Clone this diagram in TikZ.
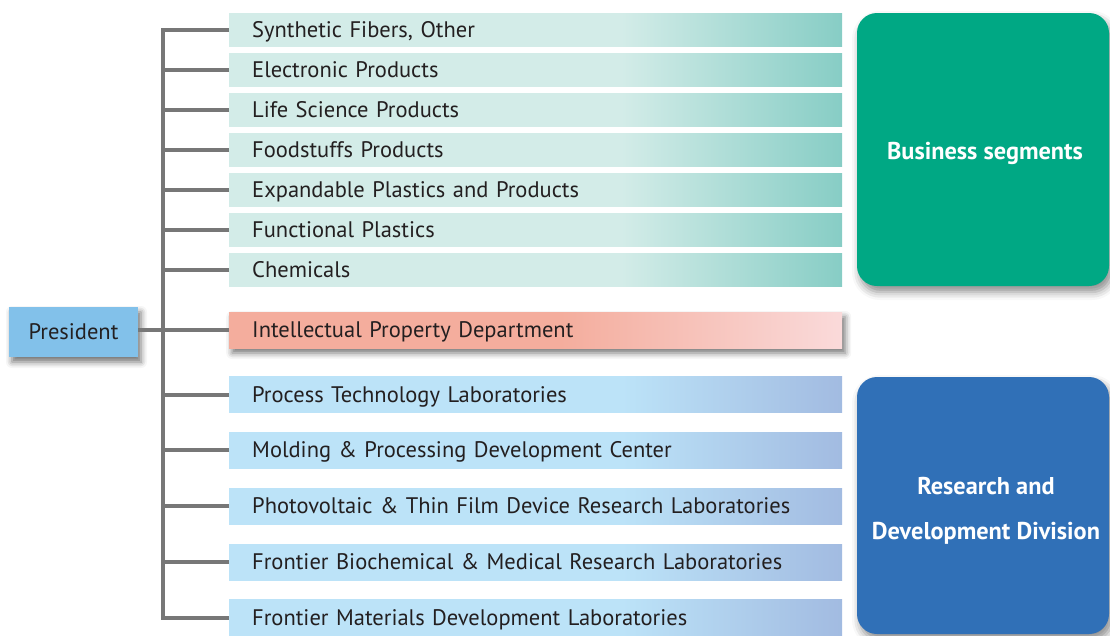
\documentclass[tikz,border=0pt]{standalone}
\usepackage{fontspec}
\setmainfont{PT Sans}
\usetikzlibrary{shadows.blur}
\definecolor{gl}{HTML}{D3ECE8}
\definecolor{gr}{HTML}{87CDC5}
\definecolor{rl}{HTML}{F4AD9D}
\definecolor{rr}{HTML}{FADADA}
\definecolor{bl}{HTML}{BCE3F8}
\definecolor{br}{HTML}{A2BBE1}
\definecolor{bizgreen}{HTML}{00A884}
\definecolor{rdblue}{HTML}{3070B7}
\definecolor{presblue}{HTML}{82C1EA}
\definecolor{linegray}{HTML}{777777}
\definecolor{txt}{HTML}{231F20}
\pgfdeclarehorizontalshading{greenrow}{100bp}{color(0bp)=(gl); color(25bp)=(gl); color(57bp)=(gl); color(75bp)=(gr); color(100bp)=(gr)}
\pgfdeclarehorizontalshading{redrow}{100bp}{color(0bp)=(rl); color(25bp)=(rl); color(52bp)=(rl); color(75bp)=(rr); color(100bp)=(rr)}
\pgfdeclarehorizontalshading{bluerow}{100bp}{color(0bp)=(bl); color(25bp)=(bl); color(57bp)=(bl); color(75bp)=(br); color(100bp)=(br)}
\tikzset{
  rowbox/.style={anchor=west, minimum width=613pt, text width=567pt, inner xsep=23pt,
    align=left, text height=15.5pt, text depth=0pt, font=\fontsize{22.5}{26}\selectfont, text=txt},
  greenbox/.style={rowbox, shading=greenrow, minimum height=33pt},
  redbox/.style={rowbox, shading=redrow, minimum height=36pt,
    blur shadow={shadow xshift=3pt, shadow yshift=-5pt, shadow blur radius=6pt, shadow opacity=55}},
  bluebox/.style={rowbox, shading=bluerow, minimum height=36pt},
  bigbox/.style={rounded corners=20pt,
    blur shadow={shadow xshift=3pt, shadow yshift=-6pt, shadow blur radius=8pt, shadow opacity=45}},
  bigtext/.style={text=white, align=center, font=\bfseries\fontsize{24.3}{45}\selectfont},
  conn/.style={draw=linegray, line width=4pt, line join=miter},
}
\begin{document}
\begin{tikzpicture}[x=1pt,y=-1pt]
\useasboundingbox (0,0) rectangle (1110,635);
% green rows
\node[greenbox] (g1) at (229,29.5) {Synthetic Fibers, Other};
\node[greenbox] (g2) at (229,69.5) {Electronic Products};
\node[greenbox] (g3) at (229,109.5) {Life Science Products};
\node[greenbox] (g4) at (229,149.5) {Foodstuffs Products};
\node[greenbox] (g5) at (229,189.5) {Expandable Plastics and Products};
\node[greenbox] (g6) at (229,229.5) {Functional Plastics};
\node[greenbox] (g7) at (229,269.5) {Chemicals};
% red row
\node[redbox] (ip) at (229,330) {Intellectual Property Department};
% blue rows
\node[bluebox] (b1) at (229,394.5) {Process Technology Laboratories};
\node[bluebox] (b2) at (229,450) {Molding \& Processing Development Center};
\node[bluebox] (b3) at (229,506) {Photovoltaic \& Thin Film Device Research Laboratories};
\node[bluebox] (b4) at (229,562) {Frontier Biochemical \& Medical Research Laboratories};
\node[bluebox] (b5) at (229,617.5) {Frontier Materials Development Laboratories};
% president
\node[fill=presblue, minimum width=129pt, minimum height=50pt, text=txt,
  font=\fontsize{22.5}{26}\selectfont, text height=15.5pt, text depth=0pt,
  blur shadow={shadow xshift=3pt, shadow yshift=-5pt, shadow blur radius=6pt, shadow opacity=55}]
  (pres) at (73.5,332) {President};
% big boxes
\path[bigbox, fill=bizgreen] (857,13) rectangle (1109,286);
\node[bigtext] (biz) at (985,153) {Business segments};
\path[bigbox, fill=rdblue] (857,377) rectangle (1109,634);
\node[bigtext] (rd) at (986,511) {Research and\\Development Division};
% connectors
\coordinate (tr) at (163,330);
\draw[conn] (g1.west) -| (tr) |- (b5.west);
\foreach \n in {g2,g3,g4,g5,g6,g7,b1,b2,b3,b4}{
  \draw[conn] (\n.west) -- (\n.west -| tr);
}
\draw[conn] (pres.east |- ip.west) -- (ip.west);
\end{tikzpicture}
\end{document}
